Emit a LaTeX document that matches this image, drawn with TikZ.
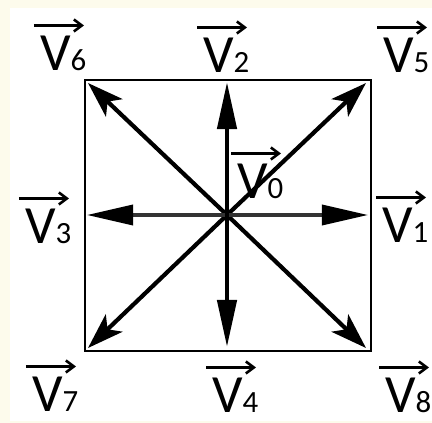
\documentclass[tikz,border=0pt]{standalone}
\usepackage{fontspec}
\setmainfont{Carlito}
\usetikzlibrary{arrows.meta}
\definecolor{cream}{HTML}{FDFBEC}
\tikzset{
  lab/.style={anchor=base west, inner sep=0pt, outer sep=0pt, font=\fontsize{54}{54}\selectfont},
  labarrow/.style={line width=2.8bp, -{Straight Barb[length=8bp,width=12bp,line width=2.6bp]}},
  axisarrow/.style={line width=4.5bp, -{Triangle[length=47bp,width=19bp]}},
  harrow/.style={line width=3.5bp, draw=black!80, -{Triangle[length=46bp,width=20bp,color=black]}},
  diagarrow/.style={line width=4.2bp, -{Stealth[length=36bp,width=24bp,inset=9bp]}},
  frame/.style={line width=2.5bp}
}
\newcommand{\vlab}[1]{V{\fontsize{31}{31}\selectfont #1}}
\begin{document}
\begin{tikzpicture}[x=1bp,y=1bp]
  \fill[cream] (0,0) rectangle (432,423);
  \fill[white] (10,2) rectangle (432,415);
  \useasboundingbox (0,0) rectangle (432,423);
  % square
  \coordinate (sqbl) at (85,72);
  \coordinate (sqtr) at (371,343);
  \draw[frame] (sqbl) rectangle (sqtr);
  % centre and tips
  \coordinate (c) at (227,208);
  \coordinate (tN) at (227,341);
  \coordinate (tS) at (227,76);
  \coordinate (tW) at (87,208);
  \coordinate (tE) at (368,208);
  \coordinate (tNW) at (88,340);
  \coordinate (tNE) at (366,340);
  \coordinate (tSW) at (88,75);
  \coordinate (tSE) at (366,75);
  \draw[diagarrow] (c) -- (tNW);
  \draw[diagarrow] (c) -- (tNE);
  \draw[diagarrow] (c) -- (tSW);
  \draw[diagarrow] (c) -- (tSE);
  \draw[harrow] (c) -- (tW);
  \draw[harrow] (c) -- (tE);
  \draw[axisarrow] (c) -- (tN);
  \draw[axisarrow] (c) -- (tS);
  % labels
  \node[lab] (v6) at (40,353) {\vlab{6}};
  \node[lab] (v2) at (203,351) {\vlab{2}};
  \node[lab] (v5) at (383,351) {\vlab{5}};
  \node[lab] (v3) at (25,180) {\vlab{3}};
  \node[lab] (v0) at (237,225) {\vlab{0}};
  \node[lab] (v1) at (382,181) {\vlab{1}};
  \node[lab] (v7) at (32,12) {\vlab{7}};
  \node[lab] (v4) at (212,11) {\vlab{4}};
  \node[lab] (v8) at (385,11) {\vlab{8}};
  \foreach \n in {v6,v2,v5,v3,v0,v1,v7,v4,v8}{
    \draw[labarrow] ([xshift=-6bp,yshift=10bp]\n.north west) -- ++(50bp,0);
  }
\end{tikzpicture}
\end{document}
